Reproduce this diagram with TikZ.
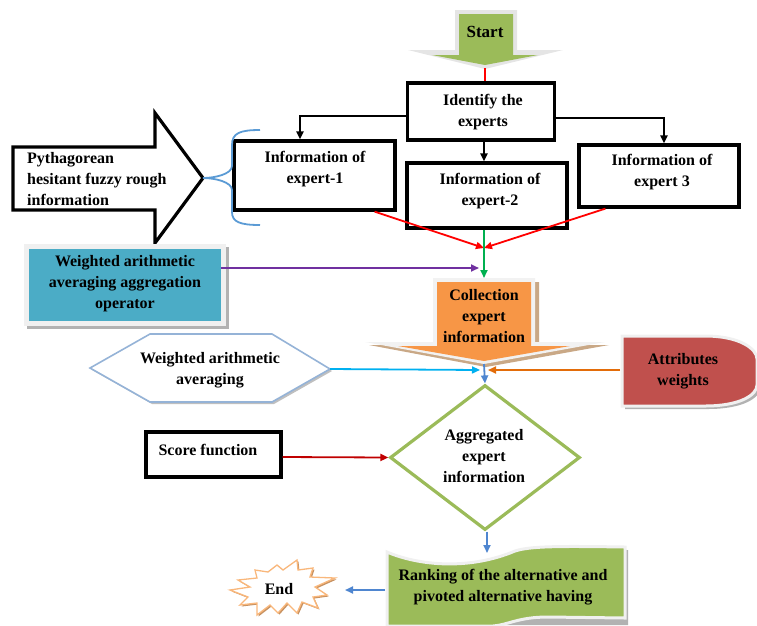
\documentclass[tikz,border=0pt]{standalone}
\usepackage{fontspec}
\setmainfont{Liberation Serif}
\usetikzlibrary{arrows.meta,shapes.geometric}
\definecolor{gr}{HTML}{9BBB59}
\definecolor{blueF}{HTML}{4BACC6}
\definecolor{orF}{HTML}{F79646}
\definecolor{redF}{HTML}{C0504D}
\definecolor{hexC}{HTML}{95B3D7}
\definecolor{braceC}{HTML}{5B9BD5}
\definecolor{purp}{HTML}{7030A0}
\definecolor{greenA}{HTML}{00B050}
\definecolor{cyanA}{HTML}{00B0F0}
\definecolor{orA}{HTML}{E36C09}
\definecolor{darkred}{HTML}{C00000}
\definecolor{blueA}{HTML}{4F86D0}
\definecolor{endC}{HTML}{F9B77B}
\definecolor{tanC}{HTML}{C9A886}
\begin{document}
\begin{tikzpicture}[x=1pt,y=-1pt,
  txt/.style={font=\fontsize{16}{21}\selectfont\bfseries, align=center, inner sep=0pt},
  box/.style={draw=black, line width=3.2pt, fill=white, inner sep=0pt},
  arr/.style={-{Triangle[length=8pt,width=7pt]}, line width=1.8pt},
  blkarr/.style={arr, draw=black, line width=2pt}]
\useasboundingbox (0,0) rectangle (757,625);

% ---------- Start arrow ----------
\fill[black!10] (455,10) -- (517,10) -- (517,50) -- (563,50) -- (485,69) -- (408,50) -- (455,50) -- cycle;
\fill[gr] (459,14) -- (513,14) -- (513,55) -- (538,55) -- (485,65) -- (432,55) -- (459,55) -- cycle;
\node[txt, font=\fontsize{17}{21}\selectfont\bfseries] (startT) at (485,32) {Start};
\coordinate (starttip) at (485,68);

% ---------- Boxes ----------
\node[box, minimum width=147pt, minimum height=57pt] (ident) at (481,111.5) {};
\node[txt] (identT) at (483,112) {Identify the\\experts};
\node[box, minimum width=161pt, minimum height=69pt] (info1) at (314.5,175.5) {};
\node[txt] (info1T) at (315,169) {Information of\\expert-1};
\node[box, minimum width=160pt, minimum height=65pt] (info2) at (487,195.5) {};
\node[txt] (info2T) at (490,191) {Information of\\expert-2};
\node[box, minimum width=160pt, minimum height=62pt] (info3) at (659,176) {};
\node[txt] (info3T) at (662,172.5) {Information of\\expert 3};

\coordinate (meet) at (484,370);
\coordinate (conv) at (484,248);

\draw[red, line width=1.8pt] (starttip) -- (ident.north -| starttip);
\draw[blkarr] ([yshift=-4.5pt]ident.west) -| ([xshift=-14.5pt]info1.north);
\draw[blkarr] ([yshift=-6.5pt]ident.east) -| ([xshift=5pt]info3.north);
\draw[blkarr] (ident.south -| meet) -- (info2.north -| meet);

\draw[arr, red] ([xshift=-22pt]info1.south east) -- (conv);
\draw[arr, red] ([xshift=28pt]info3.south west) -- (conv);

% ---------- Pythagorean arrow and brace ----------
\draw[line width=3.2pt, fill=white, line join=miter] (13,147) -- (155,147) -- (155,113) -- (203,178) -- (155,243) -- (155,210) -- (13,210) -- cycle;
\node[txt, align=left, anchor=west] (pythT) at (27,179) {Pythagorean\\hesitant fuzzy rough\\information};
\coordinate (pyTip) at (203,178);
\draw[braceC, line width=1.8pt] (260,130) .. controls (240,130) and (232,133) .. (232,145) -- (232,166) .. controls (232,174) and (215,178) .. (pyTip) .. controls (215,178) and (232,182) .. (232,190) -- (232,212) .. controls (232,222) and (240,225) .. (260,225);

% ---------- Weighted arithmetic averaging aggregation operator ----------
\fill[black!30] (27,247) rectangle (229,329);
\fill[black!6] (24,244) rectangle (226,326);
\node[fill=blueF, minimum width=192pt, minimum height=72pt, inner sep=0pt] (wa) at (125,285) {};
\node[txt] (waT) at (125,284) {Weighted arithmetic\\averaging aggregation\\operator};
\coordinate (purpEnd) at (481,268);
\draw[arr, purp] (wa.east |- purpEnd) -- ([xshift=-2pt]purpEnd);

% ---------- Collection arrow ----------
\fill[tanC] (437,282) -- (539,282) -- (539,345) -- (609,345) -- (486,367) -- (369,345) -- (437,345) -- cycle;
\fill[black!5] (433,278) -- (535,278) -- (535,342) -- (605,342) -- (484,364) -- (365,342) -- (433,342) -- cycle;
\fill[orF] (437,282) -- (531,282) -- (531,346) -- (570,346) -- (484,361) -- (398,346) -- (437,346) -- cycle;
\node[txt] (collT) at (484,316) {Collection\\expert\\information};
\coordinate (colltop) at (484,278);
\coordinate (colltip) at (484,364);
\draw[arr, greenA] (info2.south -| meet) -- (colltop);

% ---------- Hexagon ----------
\fill[black!25] (92,370) -- (152,336) -- (274,336) -- (332,371) -- (274,404) -- (152,404) -- cycle;
\draw[hexC, line width=1.6pt, fill=white] (90,368) -- (150,334) -- (272,334) -- (330,369) -- (272,402) -- (150,402) -- cycle;
\node[txt] (hexT) at (210,370) {Weighted arithmetic\\averaging};
\coordinate (hexR) at (330,369);

% ---------- Attributes weights ----------
\fill[black!30] (625,339) -- (708,339) .. controls (743,339) and (760,352) .. (760,362) -- (760,388) .. controls (760,398) and (743,409) .. (708,409) -- (625,409) -- cycle;
\draw[black!6, line width=3pt, fill=redF] (622,336) -- (705,336) .. controls (740,336) and (757,349) .. (757,359) -- (757,385) .. controls (757,395) and (740,406) .. (705,406) -- (622,406) -- cycle;
\node[txt] (attT) at (683,371) {Attributes\\weights};
\coordinate (attL) at (620,370);

\draw[arr, cyanA] (hexR) -- ([xshift=-4pt]meet);
\draw[arr, orA] (attL) -- ([xshift=4pt]meet);

% ---------- Diamond ----------
\node[diamond, draw=gr, line width=3.2pt, fill=white, minimum width=190pt, minimum height=145pt, inner sep=0pt] (agg) at (485,457.5) {};
\node[txt] (aggT) at (484,456) {Aggregated\\expert\\information};
\draw[arr, blueA] (colltip) -- (agg.north);

% ---------- Score function ----------
\node[box, minimum width=135pt, minimum height=45pt] (score) at (213.5,454.5) {};
\node[txt] (scoreT) at (208,450) {Score function};
\draw[arr, darkred] ([yshift=-2.5pt]score.east) -- (agg.west);

% ---------- Ranking ----------
\fill[black!30] (390,555) .. controls (423,569) and (473,573) .. (518,554) .. controls (533,549) and (563,549) .. (628,550) -- (628,625) -- (390,625) -- cycle;
\draw[black!6, line width=3pt, fill=gr] (387,552) .. controls (420,566) and (470,570) .. (515,551) .. controls (530,546) and (560,546) .. (625,547) -- (625,618) -- (548,617) .. controls (518,617) and (508,625) .. (493,626) -- (387,626) -- cycle;
\node[txt] (rankT) at (503,587.5) {Ranking of the alternative and\\pivoted alternative having};
\coordinate (rankTop) at (487,553);
\coordinate (rankL) at (385,590);
\draw[arr, blueA] ([xshift=2pt]agg.south) -- (rankTop);

% ---------- End starburst ----------
\begin{scope}[shift={(1.5,1.5)}]
\fill[endC!80!black] (230,590) -- (250,587) -- (238,580) -- (257,578) -- (255,570) -- (268,572) -- (277,565) -- (283,570) -- (297,560) -- (298,570) -- (313,568) -- (310,577) -- (335,578) -- (315,587) -- (327,595) -- (313,597) -- (318,608) -- (302,602) -- (297,613) -- (287,603) -- (278,613) -- (270,605) -- (257,615) -- (257,603) -- (240,605) -- (248,597) -- cycle;
\end{scope}
\draw[endC, line width=1.3pt, fill=white, line join=miter] (230,590) -- (250,587) -- (238,580) -- (257,578) -- (255,570) -- (268,572) -- (277,565) -- (283,570) -- (297,560) -- (298,570) -- (313,568) -- (310,577) -- (335,578) -- (315,587) -- (327,595) -- (313,597) -- (318,608) -- (302,602) -- (297,613) -- (287,603) -- (278,613) -- (270,605) -- (257,615) -- (257,603) -- (240,605) -- (248,597) -- cycle;
\node[txt] (endT) at (279,589) {End};
\coordinate (endArr) at (345,590);
\draw[arr, blueA] (rankL) -- (endArr);
\end{tikzpicture}
\end{document}
